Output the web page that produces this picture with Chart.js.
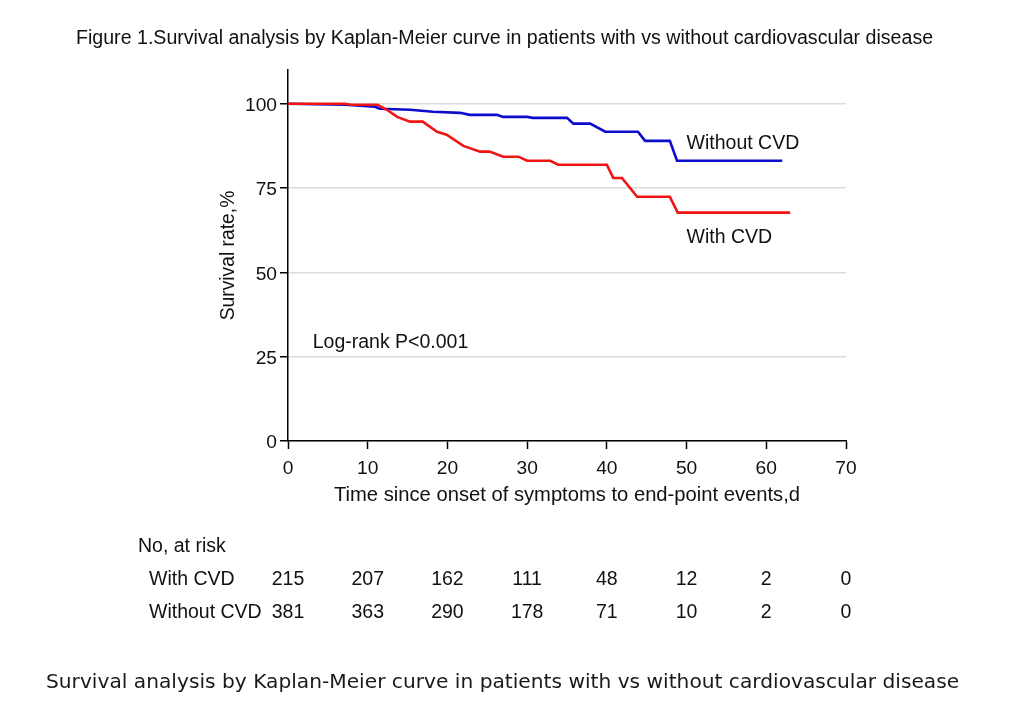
<!DOCTYPE html>
<html>
<head>
<meta charset="utf-8">
<script src="https://cdn.jsdelivr.net/npm/chart.js@4.4.1/dist/chart.umd.min.js"></script>
<style>
  html, body { margin: 0; padding: 0; background: #ffffff; }
  #wrap { position: relative; width: 1028px; height: 708px; }
  canvas { display: block; }
</style>
</head>
<body>
<div id="wrap"><canvas id="c" width="1028" height="708"></canvas></div>
<script>
// ---- Data ----
const withCvdDays      = [0, 7.2, 7.8, 11.2, 12.4, 13.7, 15.3, 16.9, 18.7, 19.9, 22.0, 24.1, 25.3, 27.0, 28.9, 30.0, 32.9, 33.9, 40.0, 40.8, 41.9, 43.8, 47.9, 48.9, 63.0];
const withCvdSurvival  = [100, 100, 99.7, 99.7, 98.2, 96.1, 94.7, 94.7, 91.7, 90.8, 87.5, 85.8, 85.8, 84.3, 84.3, 83.1, 83.1, 81.9, 81.9, 78.0, 78.0, 72.4, 72.4, 67.7, 67.7];
const withoutCvdDays     = [0, 7.2, 10.9, 11.5, 15.3, 18.2, 21.6, 22.8, 26.2, 27.0, 30.0, 30.7, 35.0, 35.8, 37.9, 39.8, 43.9, 44.8, 47.9, 48.8, 62.0];
const withoutCvdSurvival = [100, 99.7, 99.1, 98.5, 98.2, 97.6, 97.3, 96.7, 96.7, 96.1, 96.1, 95.8, 95.8, 94.1, 94.1, 91.7, 91.7, 89.0, 89.0, 83.1, 83.1];
const xTickValues = [0, 10, 20, 30, 40, 50, 60, 70];
const yTickValues = [0, 25, 50, 75, 100];
const riskWithCvd    = [215, 207, 162, 111, 48, 12, 2, 0];
const riskWithoutCvd = [381, 363, 290, 178, 71, 10, 2, 0];
const seriesNames = ['With CVD', 'Without CVD'];
const titleText = 'Figure 1.Survival analysis by Kaplan-Meier curve in patients with vs without cardiovascular disease';
const captionText = 'Survival analysis by Kaplan-Meier curve in patients with vs without cardiovascular disease';
const xTitle = 'Time since onset of symptoms to end-point events,d';
const yTitle = 'Survival rate,%';
const logRankText = 'Log-rank P<0.001';
const riskHeader = 'No, at risk';

const ARIAL = "'Liberation Sans', Arial, sans-serif";
const VERDANA = "'DejaVu Sans', Verdana, sans-serif";

const toPoints = (xs, ys) => xs.map((x, i) => ({ x: x, y: ys[i] }));

const extras = {
  id: 'extras',
  afterDraw(chart) {
    const ctx = chart.ctx;
    const xs = chart.scales.x, ys = chart.scales.y;
    ctx.save();
    ctx.fillStyle = '#111';
    ctx.textBaseline = 'middle';
    // title
    ctx.font = '19.6px ' + ARIAL;
    ctx.textAlign = 'left';
    ctx.fillText(titleText, 76, 39);
    // curve labels
    ctx.font = '19.5px ' + ARIAL;
    ctx.fillText(seriesNames[1], xs.getPixelForValue(50), ys.getPixelForValue(88.7) + 2);
    ctx.fillText(seriesNames[0], xs.getPixelForValue(50), ys.getPixelForValue(60.8) + 2);
    ctx.fillText(logRankText, xs.getPixelForValue(3.1), ys.getPixelForValue(29.7) + 2);
    // risk table
    ctx.fillText(riskHeader, 138, 547);
    ctx.fillText(seriesNames[0], 149, 580);
    ctx.fillText(seriesNames[1], 149, 613);
    ctx.textAlign = 'center';
    xTickValues.forEach((v, i) => {
      const px = xs.getPixelForValue(v);
      ctx.fillText(String(riskWithCvd[i]), px, 580);
      ctx.fillText(String(riskWithoutCvd[i]), px, 613);
    });
    // caption
    ctx.font = '20.2px ' + VERDANA;
    ctx.textAlign = 'left';
    ctx.fillStyle = '#1a1a1a';
    ctx.fillText(captionText, 46, 683);
    ctx.restore();
  }
};

new Chart(document.getElementById('c'), {
  type: 'line',
  data: {
    datasets: [
      {
        label: seriesNames[0],
        data: toPoints(withCvdDays, withCvdSurvival),
        borderColor: '#f01414',
        borderWidth: 2.6,
        pointRadius: 0,
        tension: 0,
        fill: false
      },
      {
        label: seriesNames[1],
        data: toPoints(withoutCvdDays, withoutCvdSurvival),
        borderColor: '#0c0ccc',
        borderWidth: 2.6,
        pointRadius: 0,
        tension: 0,
        fill: false
      }
    ]
  },
  options: {
    responsive: false,
    animation: false,
    devicePixelRatio: 1,
    layout: { padding: { left: 217, right: 182, top: 70, bottom: 200 } },
    plugins: { legend: { display: false }, tooltip: { enabled: false }, title: { display: false } },
    scales: {
      x: {
        type: 'linear',
        min: 0, max: 70,
        afterBuildTicks: (s) => { s.ticks = xTickValues.map(v => ({ value: v })); },
        afterFit: (s) => { s.height = 67; },
        ticks: { color: '#111', font: { size: 19.2, family: ARIAL }, padding: 8, maxRotation: 0, autoSkip: false },
        grid: { drawOnChartArea: false, drawTicks: true, tickLength: 8, tickColor: '#000', tickWidth: 1.5 },
        border: { color: '#000', width: 1.5 },
        title: { display: true, text: xTitle, color: '#111', font: { size: 20.2, family: ARIAL }, padding: { top: 0, bottom: 0 } }
      },
      y: {
        type: 'linear',
        min: 0, max: 110,
        afterBuildTicks: (s) => { s.ticks = yTickValues.map(v => ({ value: v })); },
        afterFit: (s) => { s.width = 71; },
        ticks: { color: '#111', font: { size: 19.2, family: ARIAL }, padding: 3, labelOffset: 2 },
        grid: { color: '#dcdcdc', lineWidth: 1.5, drawTicks: true, tickLength: 8, tickColor: '#000', tickWidth: 1.5 },
        border: { color: '#000', width: 1.5 },
        title: { display: true, text: yTitle, color: '#111', font: { size: 19.3, family: ARIAL }, padding: { top: 0, bottom: 0 } }
      }
    }
  },
  plugins: [extras]
});
</script>
</body>
</html>
